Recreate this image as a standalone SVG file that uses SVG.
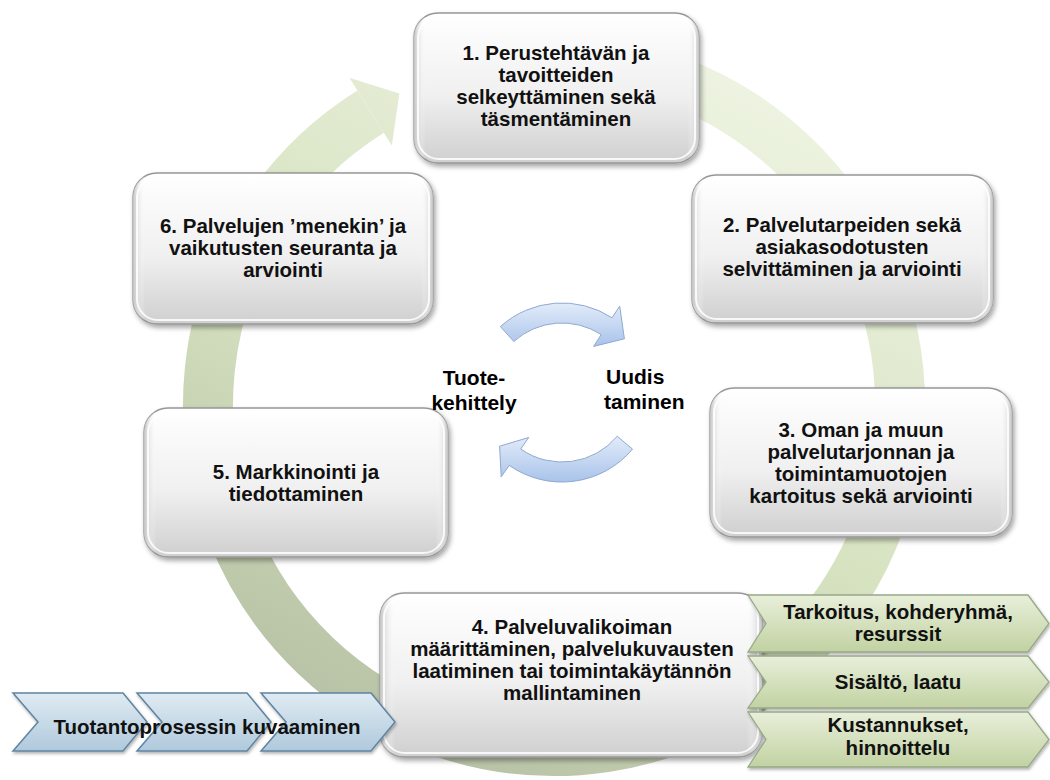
<svg xmlns="http://www.w3.org/2000/svg" width="1050" height="780" viewBox="0 0 1050 780">
<defs>
  <linearGradient id="ringGrad" gradientUnits="userSpaceOnUse" x1="700" y1="40" x2="330" y2="770">
    <stop offset="0" stop-color="#eef4e2"/>
    <stop offset="0.5" stop-color="#d6e2c0"/>
    <stop offset="1" stop-color="#b3bda2"/>
  </linearGradient>
  <linearGradient id="boxGrad" x1="0" y1="0" x2="0" y2="1">
    <stop offset="0" stop-color="#ffffff"/>
    <stop offset="0.55" stop-color="#f0f0f0"/>
    <stop offset="1" stop-color="#cfcfcf"/>
  </linearGradient>
  <linearGradient id="boxEdge" x1="0" y1="0" x2="1" y2="0">
    <stop offset="0" stop-color="#c4c4c4"/>
    <stop offset="0.04" stop-color="#ffffff" stop-opacity="0"/>
    <stop offset="0.96" stop-color="#ffffff" stop-opacity="0"/>
    <stop offset="1" stop-color="#c4c4c4"/>
  </linearGradient>
  <linearGradient id="blueArrow" x1="0" y1="0" x2="0" y2="1">
    <stop offset="0" stop-color="#e2ecfa"/>
    <stop offset="1" stop-color="#a9c3ea"/>
  </linearGradient>
  <linearGradient id="chevGrad" x1="0" y1="0" x2="0" y2="1">
    <stop offset="0" stop-color="#e0ebf3"/>
    <stop offset="1" stop-color="#afc9dc"/>
  </linearGradient>
  <linearGradient id="tagGrad" x1="0" y1="0" x2="0" y2="1">
    <stop offset="0" stop-color="#e8efda"/>
    <stop offset="1" stop-color="#c2d2a2"/>
  </linearGradient>
  <filter id="shadow" x="-10%" y="-10%" width="125%" height="130%">
    <feDropShadow dx="2" dy="3" stdDeviation="2.5" flood-color="#000" flood-opacity="0.35"/>
  </filter>
  <filter id="softShadow" x="-10%" y="-20%" width="125%" height="150%">
    <feDropShadow dx="1" dy="2" stdDeviation="1.5" flood-color="#000" flood-opacity="0.3"/>
  </filter>
</defs>
<style>
  .box { fill: url(#boxGrad); stroke: #979797; stroke-width: 1.3; filter: url(#shadow); }
  .edge { fill: url(#boxEdge); stroke: none; }
  .hl { fill: none; stroke: #ffffff; stroke-opacity: 0.85; stroke-width: 2; }
  .t { font-family: "Liberation Sans", Arial, sans-serif; font-weight: bold; font-size: 20.5px; fill: #111111; text-anchor: middle; }
  .lbl { font-family: "Liberation Sans", Arial, sans-serif; font-weight: bold; font-size: 21px; fill: #000000; }
  .chev { fill: url(#chevGrad); stroke: #5f84a0; stroke-width: 1.5; filter: url(#softShadow); }
  .tag { fill: url(#tagGrad); stroke: #98a888; stroke-width: 1.3; filter: url(#softShadow); }
  .barrow { fill: url(#blueArrow); stroke: #8fa9cf; stroke-width: 1; }
</style>

<g id="connectors">
  <path id="ring" d="M 643.6 70.8 A 346 346 0 1 1 370.6 111.6" fill="none" stroke="url(#ringGrad)" stroke-width="50"/>
  <polygon id="ringHead" points="349.4,77.7 399.4,93.6 391.8,145.5" fill="url(#ringGrad)"/>
  <path id="arrowTop" class="barrow" d="M 500.4 326.6 A 92 92 0 0 1 612.1 317.8 L 619.7 306.1 L 624.4 338.8 L 593.6 346.4 L 601.2 334.6 A 72 72 0 0 0 513.8 341.5 Z"/>
  <path id="arrowBottom" class="barrow" d="M 632.5 449.1 A 92 92 0 0 1 509.2 465.4 L 501.2 476.8 L 499.6 446.2 L 528.7 437.5 L 520.7 449.0 A 72 72 0 0 0 617.2 436.3 Z"/>
</g>

<g id="node1">
  <rect class="box" x="414" y="13" width="285" height="150" rx="24"/>
  <rect class="edge" x="414" y="13" width="285" height="150" rx="24"/>
  <rect class="hl" x="418" y="17" width="277" height="142" rx="21"/>
  <text class="t" x="556" y="60">1. Perustehtävän ja</text>
  <text class="t" x="556" y="82">tavoitteiden</text>
  <text class="t" x="556" y="104">selkeyttäminen sekä</text>
  <text class="t" x="556" y="126">täsmentäminen</text>
</g>

<g id="node2">
  <rect class="box" x="692" y="175" width="301" height="148" rx="24"/>
  <rect class="edge" x="692" y="175" width="301" height="148" rx="24"/>
  <rect class="hl" x="696" y="179" width="293" height="140" rx="21"/>
  <text class="t" x="842" y="232">2. Palvelutarpeiden sekä</text>
  <text class="t" x="842" y="254">asiakasodotusten</text>
  <text class="t" x="842" y="276">selvittäminen ja arviointi</text>
</g>

<g id="node3">
  <rect class="box" x="710" y="388" width="302" height="149" rx="24"/>
  <rect class="edge" x="710" y="388" width="302" height="149" rx="24"/>
  <rect class="hl" x="714" y="392" width="294" height="141" rx="21"/>
  <text class="t" x="861" y="437">3. Oman ja muun</text>
  <text class="t" x="861" y="459">palvelutarjonnan ja</text>
  <text class="t" x="861" y="481">toimintamuotojen</text>
  <text class="t" x="861" y="503">kartoitus sekä arviointi</text>
</g>

<g id="node5">
  <rect class="box" x="144" y="408" width="304" height="149" rx="24"/>
  <rect class="edge" x="144" y="408" width="304" height="149" rx="24"/>
  <rect class="hl" x="148" y="412" width="296" height="141" rx="21"/>
  <text class="t" x="296" y="479">5. Markkinointi ja</text>
  <text class="t" x="296" y="501">tiedottaminen</text>
</g>

<g id="node6">
  <rect class="box" x="133" y="173" width="300" height="151" rx="24"/>
  <rect class="edge" x="133" y="173" width="300" height="151" rx="24"/>
  <rect class="hl" x="137" y="177" width="292" height="143" rx="21"/>
  <text class="t" x="283" y="233">6. Palvelujen ’menekin’ ja</text>
  <text class="t" x="283" y="255">vaikutusten seuranta ja</text>
  <text class="t" x="283" y="277">arviointi</text>
</g>

<g id="node4">
  <rect class="box" x="380" y="593" width="382" height="164" rx="24"/>
  <rect class="edge" x="380" y="593" width="382" height="164" rx="24"/>
  <rect class="hl" x="384" y="597" width="374" height="156" rx="21"/>
  <text class="t" x="572" y="634">4. Palveluvalikoiman</text>
  <text class="t" x="572" y="656">määrittäminen, palvelukuvausten</text>
  <text class="t" x="572" y="678">laatiminen tai toimintakäytännön</text>
  <text class="t" x="572" y="700">mallintaminen</text>
</g>

<g id="tags">
  <g id="tag1">
    <polygon class="tag" points="748,595 1028,595 1049,623.5 1028,652 748,652 766,623.5"/>
    <text class="t" x="898" y="619">Tarkoitus, kohderyhmä,</text>
    <text class="t" x="898" y="641">resurssit</text>
  </g>
  <g id="tag2">
    <polygon class="tag" points="748,656 1028,656 1049,682 1028,708 748,708 766,682"/>
    <text class="t" x="898" y="689">Sisältö, laatu</text>
  </g>
  <g id="tag3">
    <polygon class="tag" points="748,712 1028,712 1049,739.5 1028,767 748,767 766,739.5"/>
    <text class="t" x="898" y="732">Kustannukset,</text>
    <text class="t" x="898" y="755">hinnoittelu</text>
  </g>
</g>

<g id="process">
  <polygon class="chev" points="13,693 123,693 147,722 123,751 13,751 38,722"/>
  <polygon class="chev" points="137,693 247,693 271,722 247,751 137,751 162,722"/>
  <polygon class="chev" points="261,693 371,693 395,722 371,751 261,751 286,722"/>
  <text class="t" x="207" y="734">Tuotantoprosessin kuvaaminen</text>
</g>

<g id="labelLeft">
  <text class="lbl" x="474" y="385" text-anchor="middle">Tuote-</text>
  <text class="lbl" x="474" y="410" text-anchor="middle">kehittely</text>
</g>
<g id="labelRight">
  <text class="lbl" x="606" y="384">Uudis</text>
  <text class="lbl" x="604" y="409">taminen</text>
</g>
</svg>
